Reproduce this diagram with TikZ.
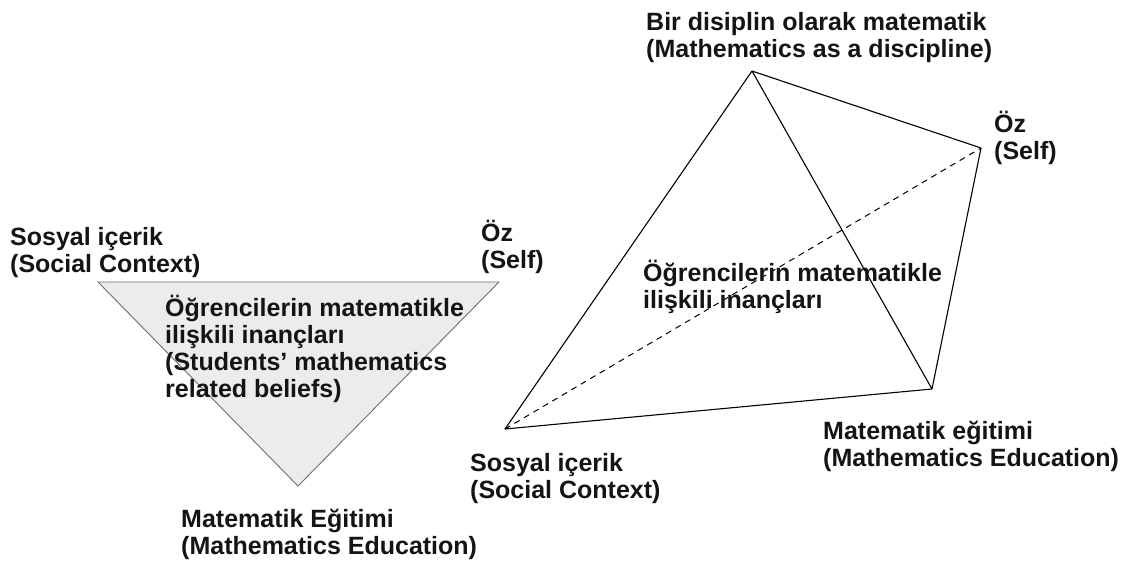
\documentclass[tikz,border=0pt]{standalone}
\usepackage{fontspec}
\setmainfont{Liberation Sans}
\newcommand\tstr{\rule{0pt}{24pt}}
\newcommand\lblfont{\fontsize{25}{27}\selectfont\bfseries\lineskiplimit=-100pt\relax}
\definecolor{trifill}{RGB}{236,236,236}
\definecolor{triedge}{RGB}{110,110,110}
\definecolor{txt}{RGB}{20,20,20}
\begin{document}
\begin{tikzpicture}[x=1pt,y=-1pt,
  lbl/.style={font=\lblfont, text=txt, align=left, inner sep=0pt, anchor=north west},
  edge/.style={draw=black, line width=1.1pt, line join=round},
  hidden/.style={draw=black, line width=1pt, dash pattern=on 6pt off 5pt}]
\useasboundingbox (0,0) rectangle (1124,560);
% left triangle
\coordinate (tl) at (98,282);
\coordinate (tr) at (499,282);
\coordinate (tb) at (298,486);
\path[fill=trifill, draw=triedge, line width=0.9pt, line join=round] (tl) -- (tr) -- (tb) -- cycle;
\node[lbl] (lsc) at (10,221) {\tstr Sosyal içerik\\(Social Context)};
\node[lbl] (lself) at (481,217) {\tstr Öz\\(Self)};
\node[lbl] (lbel) at (165,292) {\tstr Öğrencilerin matematikle\\ilişkili inançları\\(Students’ mathematics\\related beliefs)};
\node[lbl] (lme) at (181,503) {\tstr Matematik Eğitimi\\(Mathematics Education)};
% tetrahedron
\coordinate (apex) at (752,71);
\coordinate (self) at (981,148);
\coordinate (me) at (932,389);
\coordinate (sc) at (505,429);
\draw[hidden] (sc) -- (self);
\draw[edge] (apex) -- (sc) -- (me) -- (self) -- (apex) -- (me);
\node[lbl] (rdis) at (646,6) {\tstr Bir disiplin olarak matematik\\(Mathematics as a discipline)};
\node[lbl] (rself) at (994,108) {\tstr Öz\\(Self)};
\node[lbl] (rbel) at (643,257) {\tstr Öğrencilerin matematikle\\ilişkili inançları};
\node[lbl] (rsc) at (470,447) {\tstr Sosyal içerik\\(Social Context)};
\node[lbl] (rme) at (823,415) {\tstr Matematik eğitimi\\(Mathematics Education)};
\end{tikzpicture}
\end{document}
